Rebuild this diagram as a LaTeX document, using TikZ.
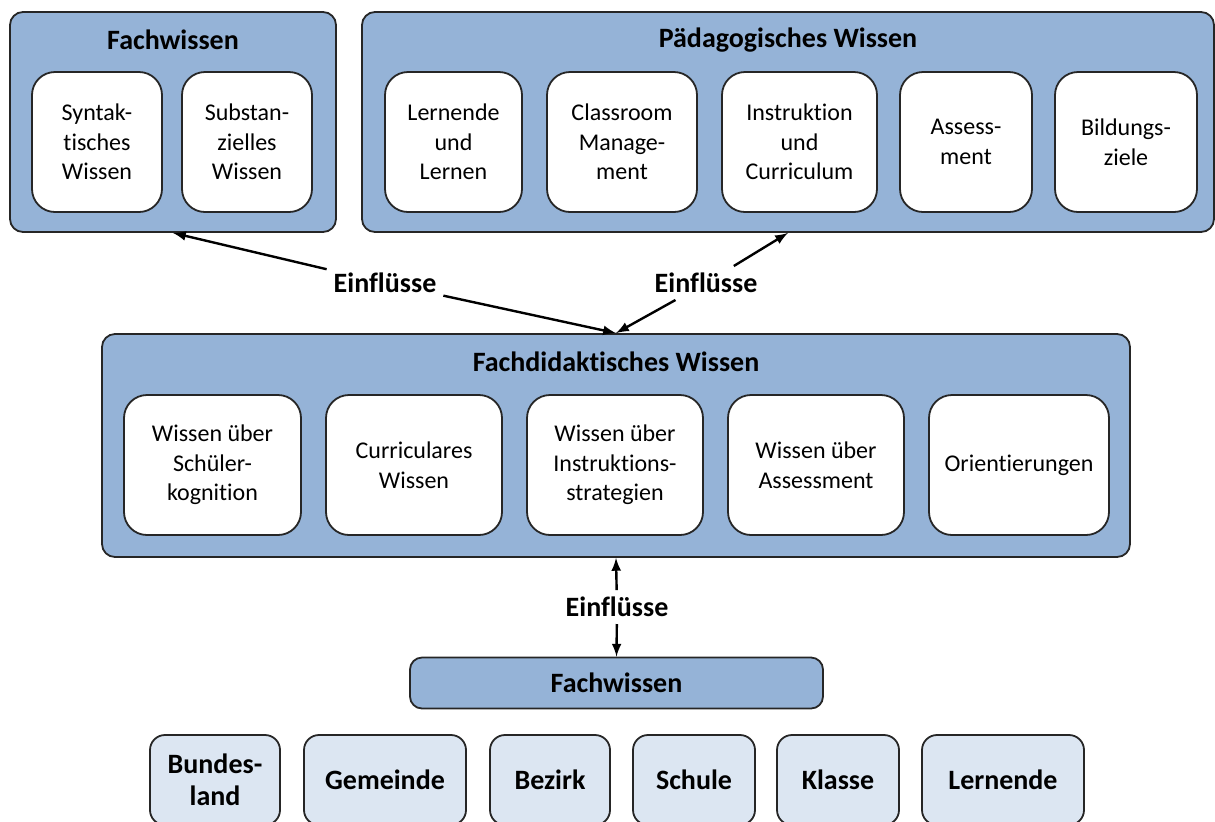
\documentclass[tikz,border=0pt]{standalone}
\usepackage{fontspec}
\setmainfont[Ligatures=NoCommon]{Carlito}
\usetikzlibrary{positioning,arrows}
\definecolor{boxblue}{HTML}{95B3D7}
\definecolor{paleblue}{HTML}{DCE6F2}
\definecolor{rim}{HTML}{262626}

\begin{document}
\begin{tikzpicture}[
		x=0.5pt,y=-0.5pt,
		node distance=12.5pt,
		group/.style={draw=rim,line width=0.9pt,fill=boxblue,rounded corners=6.5pt,inner sep=0pt},
		heading/.style={font=\fontsize{14}{17}\selectfont\bfseries},
		topic/.style={draw=rim,line width=0.9pt,fill=white,rounded corners=11.5pt,minimum height=70pt,align=center,font=\fontsize{12}{14.8}\selectfont,inner sep=2pt,outer sep=0pt},
		level/.style={draw=rim,line width=0.9pt,fill=paleblue,rounded corners=7.5pt,minimum height=45pt,align=center,font=\fontsize{14}{16}\selectfont\bfseries,inner sep=2pt,outer sep=0pt},
		infl/.style={font=\fontsize{14}{17}\selectfont\bfseries}
		]
		\useasboundingbox (0,0) rectangle (1215,821);
		% Fachwissen
		\node[group,minimum width=163pt,minimum height=110pt] (fw) at (173,122) {};
		\node[heading] (fwtitle) at (173,40) {Fachwissen};
		\node[topic,minimum width=65pt] (syn) at (97,142) {Syntak-\\tisches\\Wissen};
		\node[topic,minimum width=65pt,right=10pt of syn] (sub) {Substan-\\zielles\\Wissen};
		% Paedagogisches Wissen
		\node[group,minimum width=426pt,minimum height=110pt] (pw) at (788,122) {};
		\node[heading] (pwtitle) at (788,40) {Pädagogisches Wissen};
		\node[topic,minimum width=68.5pt] (lern) at (453.5,142) {Lernende\\und\\Lernen};
		\node[topic,minimum width=75pt,right=of lern] (class) {Classroom\\Manage-\\ment};
		\node[topic,minimum width=77.5pt,right=of class] (instr) {Instruktion\\und\\Curriculum};
		\node[topic,minimum width=66pt,right=11.5pt of instr] (assess) {Assess-\\ment};
		\node[topic,minimum width=71pt,right=11.5pt of assess] (ziele) {Bildungs-\\ziele};
		% Fachdidaktisches Wissen
		\node[group,minimum width=514pt,minimum height=111.5pt] (fd) at (616,445.5) {};
		\node[heading] (fdtitle) at (616,362) {Fachdidaktisches Wissen};
		\node[topic,minimum width=88.5pt] (kog) at (212.5,465) {Wissen über\\Schüler-\\kognition};
		\node[topic,minimum width=88pt,right=of kog] (curr) {Curriculares\\Wissen};
		\node[topic,minimum width=88pt,right=of curr] (strat) {Wissen über\\Instruktions-\\strategien};
		\node[topic,minimum width=88pt,right=of strat] (wass) {Wissen über\\Assessment};
		\node[topic,minimum width=90pt,right=of wass] (orient) {Orientierungen};
		% Einfluesse
		\node[infl] (einl) at (385,283) {Einflüsse};
		\node[infl] (einr) at (706,283) {Einflüsse};
		\node[infl] (einm) at (617,607) {Einflüsse};
		\path [-latex,line width=1.2pt]
		(einl) edge (fw.south)
		(einl) edge (fd.north)
		(einr) edge (pw.south)
		(einr) edge (fd.north)
		(einm) edge (fd.south);
		% Kontext
		\node[group,rounded corners=6pt,minimum width=206.5pt,minimum height=25.5pt,heading] (fw2) at (616.5,683) {Fachwissen};
		\path [-latex,line width=1.2pt] (einm) edge (fw2.north);
		\node[level,minimum width=65pt] (land) at (215,780) {Bundes-\\land};
		\node[level,minimum width=81pt,right=12pt of land] (gem) {Gemeinde};
		\node[level,minimum width=60pt,right=12pt of gem] (bez) {Bezirk};
		\node[level,minimum width=61pt,right=11.5pt of bez] (schule) {Schule};
		\node[level,minimum width=61pt,right=11pt of schule] (klasse) {Klasse};
		\node[level,minimum width=81pt,right=11.5pt of klasse] (lernende) {Lernende};
	\end{tikzpicture}
\end{document}
